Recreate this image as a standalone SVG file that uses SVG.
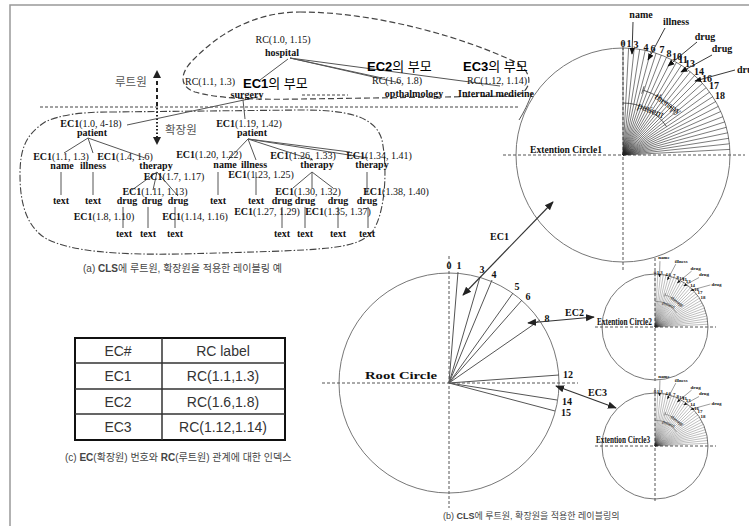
<svg xmlns="http://www.w3.org/2000/svg" xmlns:xlink="http://www.w3.org/1999/xlink" width="749" height="526" viewBox="0 0 749 526">
<style>
.t{font-family:"Liberation Serif","Times New Roman",serif;font-size:10px;fill:#111}
.m{text-anchor:middle}
.b{font-weight:bold}
.k{font-family:"Liberation Sans","Noto Sans CJK KR",sans-serif}
.ln{stroke:#555;stroke-width:1;fill:none}
.ax{stroke:#555;stroke-width:1;stroke-dasharray:3,2;fill:none}
.cir{stroke:#777;stroke-width:1;fill:none}
.arr{stroke:#333;stroke-width:1.2;fill:none}
.cap{font-family:"Liberation Sans","Noto Sans CJK KR",sans-serif;fill:#444}
.tb{font-family:"Liberation Sans",Arial,sans-serif;font-size:14px;fill:#333;text-anchor:middle}
</style>
<defs>
<marker id="ah" viewBox="0 0 10 10" refX="9" refY="5" markerWidth="9" markerHeight="9" markerUnits="userSpaceOnUse" orient="auto-start-reverse"><path d="M0,1 L10,5 L0,9 z" fill="#222"/></marker>
<marker id="ahs" viewBox="0 0 10 10" refX="9" refY="5" markerWidth="7" markerHeight="7" markerUnits="userSpaceOnUse" orient="auto"><path d="M0,1 L10,5 L0,9 z" fill="#111"/></marker>
<g id="quad">
<path stroke="#222" stroke-width="0.6" fill="none" d="M0,0L0,-107M0,0L5.6,-106.9M0,0L11.2,-106.4M0,0L16.7,-105.7M0,0L22.2,-104.7M0,0L27.7,-103.4M0,0L33.1,-101.8M0,0L38.3,-99.9M0,0L43.5,-97.7M0,0L48.6,-95.3M0,0L53.5,-92.7M0,0L58.3,-89.7M0,0L62.9,-86.6M0,0L67.3,-83.1M0,0L71.6,-79.5M0,0L75.7,-75.7M0,0L79.5,-71.6M0,0L83.1,-67.3M0,0L86.6,-62.9M0,0L89.7,-58.3M0,0L92.7,-53.5M0,0L95.3,-48.6M0,0L97.7,-43.5M0,0L99.9,-38.3M0,0L101.8,-33.1M0,0L103.4,-27.7M0,0L104.7,-22.2M0,0L105.7,-16.7M0,0L106.4,-11.2M0,0L106.9,-5.6"/>
<path stroke="#333" stroke-width="0.8" fill="none" d="M0,-52 A52,52 0 0 1 43.6,-28.3 M19.9,-65 A68,68 0 0 1 52.1,-43.7 M18.7,-61.2 L21.1,-68.8 M49.9,-41.4 L54.4,-46.0"/>
<text class="t" font-size="6.5" transform="translate(14,-47) rotate(22)">patient</text>
<text class="t" font-size="6.5" transform="translate(31,-57) rotate(35)">therapy</text>
<g class="t b" font-size="8" text-anchor="middle">
<text x="0" y="-108">0</text><text x="6" y="-108">1</text><text x="13" y="-107">3</text><text x="23" y="-104">4</text><text x="30" y="-103">6</text><text x="39" y="-102">7</text><text x="46" y="-98">8</text><text x="54" y="-95">10</text><text x="60" y="-92">11</text><text x="67" y="-88">13</text><text x="76" y="-80">14</text><text x="84" y="-73">16</text><text x="91" y="-66">17</text><text x="97" y="-56">18</text>
</g>
<g stroke="#222" stroke-width="0.9" marker-end="url(#ahs)">
<line x1="10" y1="-133" x2="9" y2="-101"/>
<line x1="42" y1="-127" x2="25" y2="-95"/>
<line x1="74" y1="-113" x2="45" y2="-89"/>
<line x1="89" y1="-100" x2="58" y2="-83"/>
<line x1="112" y1="-85" x2="72" y2="-74"/>
</g>
<g class="t b" font-size="7.5">
<text x="18" y="-137" text-anchor="middle">name</text>
<text x="53" y="-130" text-anchor="middle">illness</text>
<text x="82" y="-115" text-anchor="middle">drug</text>
<text x="99" y="-103" text-anchor="middle">drug</text>
<text x="114" y="-82">drug</text>
</g>
</g>
</defs>
<rect width="749" height="526" fill="#fff"/>
<path d="M10,526 L10,5 L749,5" stroke="#999" stroke-width="1.5" fill="none"/>

<!-- region shapes -->
<g id="regions">
<path d="M300,12 C380,12 470,40 515,62 C535,72 532,92 515,96 L300,99 C250,100 215,98 195,92 C178,86 180,72 195,58 C215,38 250,12 300,12 Z" stroke="#444" stroke-width="1.2" stroke-dasharray="6,3" fill="none"/>
<path d="M532,93 C528,104 524,112 519,120" stroke="#555" stroke-width="1" fill="none"/>
<path d="M110,112 L300,110 C345,110 375,115 382,140 C388,170 385,215 372,232 C355,250 330,250 180,254 C120,255 70,252 45,238 C25,225 20,200 20,175 C20,150 25,135 45,122 C60,115 80,112 110,112 Z" stroke="#444" stroke-width="1.1" stroke-dasharray="7,2,1.5,2" fill="none"/>
<line x1="40" y1="107" x2="520" y2="107" stroke="#444" stroke-width="1" stroke-dasharray="3,2"/>
<line x1="302" y1="95" x2="348" y2="95" stroke="#444" stroke-width="1" stroke-dasharray="3,2"/>
<line x1="157" y1="106" x2="157" y2="76" stroke="#222" stroke-width="2" stroke-dasharray="4,3"/>
<path d="M153,78 L157,70 L161,78 Z" fill="#222"/>
<line x1="157" y1="108" x2="157" y2="138" stroke="#222" stroke-width="2" stroke-dasharray="1.5,2"/>
<path d="M153,137 L157,145 L161,137 Z" fill="#222"/>
<text class="k" x="115" y="86" font-size="11.5" fill="#555">루트원</text>
<text class="k" x="165" y="134" font-size="11.5" fill="#555">확장원</text>
</g>

<!-- tree connectors -->
<g id="tree-edges" class="ln">
<line x1="288" y1="59" x2="260" y2="80"/>
<line x1="290" y1="58" x2="382" y2="78"/>
<line x1="290" y1="58" x2="400" y2="83"/>
<line x1="290" y1="58" x2="500" y2="86"/>
<line x1="258" y1="97" x2="127" y2="125"/>
<line x1="243" y1="100" x2="245" y2="119"/>
<line x1="88" y1="138" x2="64" y2="153"/>
<line x1="88" y1="138" x2="93" y2="153"/>
<line x1="88" y1="138" x2="145" y2="158"/>
<line x1="61" y1="172" x2="61" y2="195"/>
<line x1="93" y1="172" x2="93" y2="195"/>
<line x1="157" y1="172" x2="132" y2="190"/>
<line x1="157" y1="172" x2="153" y2="190"/>
<line x1="157" y1="172" x2="178" y2="196"/>
<line x1="123" y1="207" x2="123" y2="228"/>
<line x1="148" y1="207" x2="148" y2="228"/>
<line x1="175" y1="207" x2="175" y2="228"/>
<line x1="248" y1="139" x2="228" y2="160"/>
<line x1="248" y1="139" x2="256" y2="160"/>
<line x1="248" y1="139" x2="313" y2="160"/>
<line x1="248" y1="139" x2="350" y2="152"/>
<line x1="248" y1="139" x2="368" y2="158"/>
<line x1="218" y1="172" x2="218" y2="195"/>
<line x1="256" y1="172" x2="256" y2="195"/>
<line x1="312" y1="172" x2="293" y2="188"/>
<line x1="312" y1="172" x2="312" y2="188"/>
<line x1="312" y1="172" x2="333" y2="188"/>
<line x1="367" y1="172" x2="367" y2="195"/>
<line x1="282" y1="207" x2="282" y2="228"/>
<line x1="305" y1="207" x2="305" y2="228"/>
<line x1="338" y1="207" x2="338" y2="228"/>
<line x1="368" y1="207" x2="368" y2="228"/>
</g>

<!-- root tree nodes -->
<g id="n-hospital"><text class="t m" x="283" y="43" font-size="10">RC(1.0, 1.15)</text><text class="t m b" x="282" y="56">hospital</text></g>
<g id="n-surgery"><text class="t m" x="210" y="85" font-size="10.5">RC(1.1, 1.3)</text><text class="k" x="243" y="88" font-size="13"><tspan font-weight="bold">EC1</tspan>의 부모</text><text class="t m b" x="247" y="98">surgery</text></g>
<g id="n-opth"><text class="k" x="367" y="71" font-size="13"><tspan font-weight="bold">EC2</tspan>의 부모</text><text class="t m" x="397" y="84" font-size="10">RC(1.6, 1.8)</text><text class="t m b" x="414" y="97">opthalmology</text></g>
<g id="n-internal"><text class="k" x="463" y="71" font-size="13"><tspan font-weight="bold">EC3</tspan>의 부모</text><text class="t m" x="497" y="84" font-size="10">RC(1.12, 1.14)</text><text class="t m b" x="496" y="97">Internal medicine</text></g>

<!-- left subtree -->
<g id="n-patient1"><text class="t m" x="91" y="127"><tspan font-weight="bold">EC1</tspan>(1.0, 4-18)</text><text class="t m b" x="92" y="136">patient</text></g>
<g id="n-name1"><text class="t m" x="61" y="160"><tspan font-weight="bold">EC1</tspan>(1.1, 1.3)</text><text class="t m b" x="62" y="169">name</text><text class="t m b" x="61" y="204">text</text></g>
<g id="n-illness1"><text class="t m b" x="93" y="169">illness</text><text class="t m b" x="93" y="204">text</text></g>
<g id="n-therapy1"><text class="t m" x="125" y="160"><tspan font-weight="bold">EC1</tspan>(1.4, 1.6)</text><text class="t m b" x="156" y="169">therapy</text><text class="t m" x="174" y="180"><tspan font-weight="bold">EC1</tspan>(1.7, 1.17)</text></g>
<g id="n-drugs1"><text class="t m" x="155" y="195"><tspan font-weight="bold">EC1</tspan>(1.11, 1.13)</text>
<text class="t m b" x="127" y="204">drug</text><text class="t m b" x="152" y="204">drug</text><text class="t m b" x="178" y="204">drug</text>
<text class="t m" x="104" y="220"><tspan font-weight="bold">EC1</tspan>(1.8, 1.10)</text><text class="t m" x="195" y="220"><tspan font-weight="bold">EC1</tspan>(1.14, 1.16)</text>
<text class="t m b" x="124" y="237">text</text><text class="t m b" x="148" y="237">text</text><text class="t m b" x="175" y="237">text</text></g>

<!-- right subtree -->
<g id="n-patient2"><text class="t m" x="249" y="127"><tspan font-weight="bold">EC1</tspan>(1.19, 1.42)</text><text class="t m b" x="252" y="136">patient</text></g>
<g id="n-name2"><text class="t m" x="209" y="158"><tspan font-weight="bold">EC1</tspan>(1.20, 1.22)</text><text class="t m b" x="225" y="168">name</text><text class="t m b" x="218" y="204">text</text></g>
<g id="n-illness2"><text class="t m b" x="254" y="168">illness</text><text class="t m" x="261" y="178"><tspan font-weight="bold">EC1</tspan>(1.23, 1.25)</text><text class="t m b" x="256" y="204">text</text></g>
<g id="n-therapy2"><text class="t m" x="303" y="159"><tspan font-weight="bold">EC1</tspan>(1.26, 1.33)</text><text class="t m b" x="317" y="168">therapy</text><text class="t m" x="308" y="195"><tspan font-weight="bold">EC1</tspan>(1.30, 1.32)</text></g>
<g id="n-therapy3"><text class="t m" x="379" y="159"><tspan font-weight="bold">EC1</tspan>(1.34, 1.41)</text><text class="t m b" x="372" y="168">therapy</text><text class="t m" x="396" y="195"><tspan font-weight="bold">EC1</tspan>(1.38, 1.40)</text></g>
<g id="n-drugs2"><text class="t m b" x="282" y="204">drug</text><text class="t m b" x="305" y="204">drug</text><text class="t m b" x="338" y="204">drug</text><text class="t m b" x="367" y="204">drug</text>
<text class="t m" x="267" y="215"><tspan font-weight="bold">EC1</tspan>(1.27, 1.29)</text><text class="t m" x="338" y="215"><tspan font-weight="bold">EC1</tspan>(1.35, 1.37)</text>
<text class="t m b" x="282" y="237">text</text><text class="t m b" x="305" y="237">text</text><text class="t m b" x="338" y="237">text</text><text class="t m b" x="367" y="237">text</text></g>

<text class="cap" x="83" y="272" font-size="10">(a) <tspan font-weight="bold">CLS</tspan>에 루트원, 확장원을 적용한 레이블링 예</text>

<!-- Extention Circle 1 -->
<g id="ec1">
<circle class="cir" cx="623" cy="155" r="107"/>
<line class="ax" x1="503" y1="155" x2="745" y2="155"/>
<line class="ax" x1="623" y1="42" x2="623" y2="270"/>
<use href="#quad" xlink:href="#quad" transform="translate(623,155)"/>
<text class="t b" x="530" y="153" font-size="9" textLength="72" lengthAdjust="spacingAndGlyphs">Extention Circle1</text>
</g>

<!-- Root circle -->
<g id="root">
<circle class="cir" cx="449" cy="383" r="110"/>
<line class="ax" x1="322" y1="383" x2="578" y2="383"/>
<line class="ax" x1="449" y1="256" x2="449" y2="508"/>
<path stroke="#555" stroke-width="1" fill="none" d="M449,383L458,272M449,383L480,277M449,383L492,280M449,383L513,293M449,383L522,300M449,383L540,320M449,383L559,375M449,383L557,400M449,383L555,411"/>
<g class="t b m" font-size="9"><text x="449" y="269">0</text><text x="459" y="269">1</text><text x="482" y="273">3</text><text x="494" y="278">4</text><text x="517" y="290">5</text><text x="528" y="300">6</text><text x="547" y="322">8</text><text x="568" y="378">12</text><text x="567" y="405">14</text><text x="566" y="416">15</text></g>
<text class="t b" x="365" y="379" font-size="14.5" textLength="72" lengthAdjust="spacingAndGlyphs">Root Circle</text>
</g>

<!-- Extention Circle 2 -->
<g id="ec2">
<circle class="cir" cx="655" cy="327" r="53"/>
<line class="ax" x1="595" y1="327" x2="716" y2="327"/>
<line class="ax" x1="655" y1="258" x2="655" y2="382"/>
<use href="#quad" xlink:href="#quad" transform="translate(655,327) scale(0.495)"/>
<text class="t b" x="597" y="325" font-size="7.3" textLength="55" lengthAdjust="spacingAndGlyphs">Extention Circle2</text>
</g>

<!-- Extention Circle 3 -->
<g id="ec3">
<circle class="cir" cx="655" cy="446" r="53"/>
<line class="ax" x1="595" y1="446" x2="716" y2="446"/>
<line class="ax" x1="655" y1="388" x2="655" y2="502"/>
<use href="#quad" xlink:href="#quad" transform="translate(655,446) scale(0.495)"/>
<text class="t b" x="596" y="443" font-size="7.3" textLength="54" lengthAdjust="spacingAndGlyphs">Extention Circle3</text>
</g>

<!-- EC connectors -->
<g id="connectors">
<line class="arr" x1="463" y1="295" x2="553" y2="202" marker-start="url(#ah)" marker-end="url(#ah)"/>
<line class="arr" x1="528" y1="323" x2="594" y2="317" marker-start="url(#ah)" marker-end="url(#ah)"/>
<line class="arr" x1="556" y1="386" x2="616" y2="408" marker-start="url(#ah)" marker-end="url(#ah)"/>
<text class="t b" x="490" y="240" font-size="10.5">EC1</text>
<text class="t b" x="565" y="316" font-size="10.5">EC2</text>
<text class="t b" x="588" y="396" font-size="10.5">EC3</text>
</g>

<text class="cap" x="443" y="519" font-size="9">(b) <tspan font-weight="bold">CLS</tspan>에 루트원, 확장원을 적용한 레이블링의</text>

<!-- table -->
<g id="table">
<rect x="75" y="338" width="210" height="102" fill="none" stroke="#111" stroke-width="2"/>
<path d="M162,338 V440 M75,363 H285 M75,389 H285 M75,414 H285" stroke="#333" stroke-width="1.5" fill="none"/>
<text class="tb" x="118" y="356">EC#</text><text class="tb" x="223" y="356">RC label</text>
<text class="tb" x="118" y="381">EC1</text><text class="tb" x="223" y="381">RC(1.1,1.3)</text>
<text class="tb" x="118" y="407">EC2</text><text class="tb" x="223" y="407">RC(1.6,1.8)</text>
<text class="tb" x="118" y="432">EC3</text><text class="tb" x="223" y="432">RC(1.12,1.14)</text>
</g>
<text class="cap" x="65" y="461" font-size="10">(c) <tspan font-weight="bold">EC</tspan>(확장원) 번호와 <tspan font-weight="bold">RC</tspan>(루트원) 관계에 대한 인덱스</text>
</svg>
